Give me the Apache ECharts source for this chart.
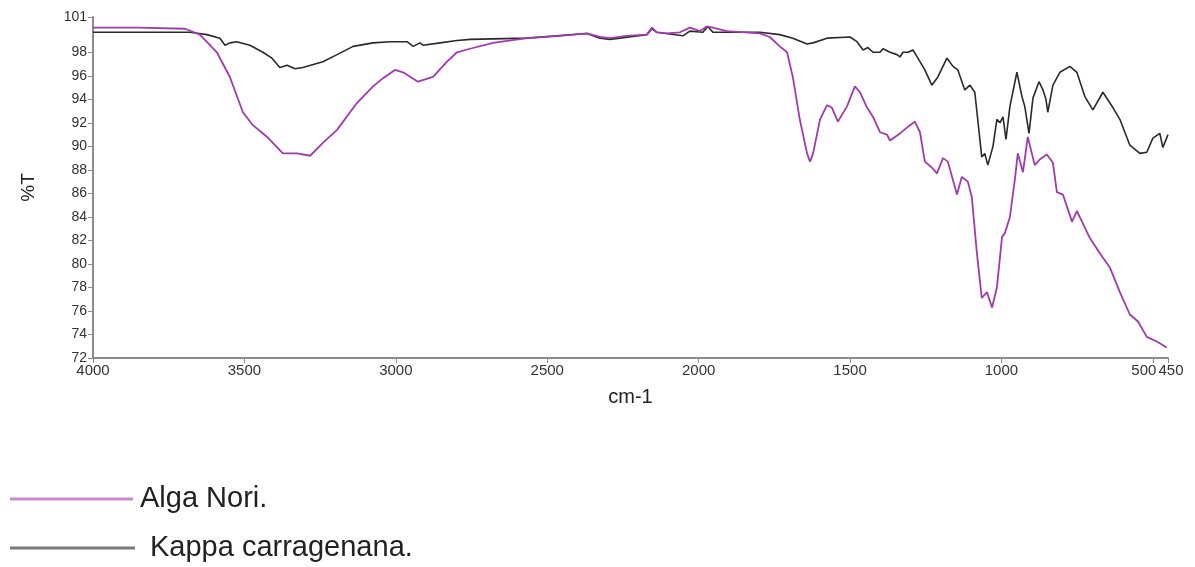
<!DOCTYPE html>
<html>
<head>
<meta charset="utf-8">
<script src="https://cdn.jsdelivr.net/npm/echarts@6/dist/echarts.min.js"></script>
<style>
  html, body { margin: 0; padding: 0; background: #fff; }
  #chart { width: 1195px; height: 567px; }
</style>
</head>
<body>
<div id="chart"></div>
<script>
// tick labels
const xTicks = [4000, 3500, 3000, 2500, 2000, 1500, 1000, 500, 450];
const yTicks = [72, 74, 76, 78, 80, 82, 84, 86, 88, 90, 92, 94, 96, 98, 101];

// Alga Nori. (wavenumber cm-1, %T)
const noriWn = [4000, 3850, 3696, 3647, 3591, 3548, 3505, 3472, 3425, 3373, 3326, 3283, 3241, 3194, 3128, 3075, 3042, 3003, 2976, 2927,
  2877, 2831, 2798, 2755, 2679, 2567, 2458, 2369, 2326, 2293, 2237, 2171, 2154, 2138, 2105, 2062, 2029, 1996, 1973, 1953,
  1907, 1798, 1765, 1732, 1708, 1689, 1666, 1642, 1632, 1622, 1599, 1576, 1560, 1540, 1510, 1484, 1467, 1444, 1424, 1401,
  1378, 1368, 1335, 1302, 1286, 1269, 1253, 1230, 1213, 1193, 1177, 1147, 1131, 1111, 1098, 1081, 1065, 1048, 1031, 1015,
  998, 989, 972, 956, 946, 929, 913, 890, 873, 850, 830, 817, 797, 767, 751, 734, 708, 675, 642, 609,
  576, 549, 520, 487, 454];
const noriT = [100.1, 100.1, 100.0, 99.5, 98.0, 95.9, 92.9, 91.8, 90.8, 89.4, 89.4, 89.2, 90.3, 91.4, 93.7, 95.1, 95.8, 96.5, 96.3, 95.5,
  95.9, 97.2, 98.0, 98.3, 98.8, 99.2, 99.4, 99.6, 99.3, 99.2, 99.4, 99.5, 100.1, 99.7, 99.6, 99.7, 100.1, 99.8, 100.2, 100.1,
  99.8, 99.6, 99.3, 98.5, 98.0, 95.9, 92.3, 89.4, 88.7, 89.4, 92.3, 93.5, 93.3, 92.1, 93.4, 95.1, 94.6, 93.3, 92.5, 91.2,
  91.0, 90.5, 91.1, 91.8, 92.1, 91.2, 88.7, 88.2, 87.7, 89.0, 88.7, 85.9, 87.4, 87.0, 85.7, 80.9, 77.1, 77.6, 76.3, 78.0,
  82.3, 82.6, 84.0, 87.1, 89.4, 87.8, 90.8, 88.4, 88.9, 89.3, 88.6, 86.1, 85.9, 83.6, 84.5, 83.6, 82.2, 80.9, 79.7, 77.6,
  75.7, 75.1, 73.8, 73.4, 72.9];

// Kappa carragenana. (wavenumber cm-1, %T)
const kappaWn = [4000, 3736, 3680, 3624, 3581, 3564, 3548, 3525, 3482, 3439, 3409, 3383, 3359, 3333, 3307, 3241, 3194, 3141, 3075, 3019,
  2963, 2943, 2920, 2910, 2854, 2798, 2755, 2567, 2369, 2326, 2293, 2171, 2154, 2138, 2052, 2029, 1986, 1970, 1953, 1798,
  1732, 1689, 1642, 1622, 1576, 1500, 1477, 1457, 1441, 1424, 1401, 1391, 1368, 1345, 1335, 1325, 1309, 1292, 1276, 1253,
  1230, 1210, 1180, 1160, 1144, 1121, 1104, 1088, 1065, 1055, 1045, 1028, 1015, 1005, 995, 985, 972, 949, 932, 923,
  909, 896, 876, 863, 853, 847, 830, 807, 774, 751, 724, 698, 665, 632, 609, 576, 543, 520, 500, 477,
  467, 450];
const kappaT = [99.7, 99.7, 99.7, 99.5, 99.2, 98.6, 98.8, 98.9, 98.6, 98.0, 97.5, 96.7, 96.9, 96.6, 96.7, 97.2, 97.8, 98.5, 98.8, 98.9,
  98.9, 98.5, 98.8, 98.6, 98.8, 99.0, 99.1, 99.2, 99.6, 99.2, 99.1, 99.5, 100.0, 99.7, 99.4, 99.8, 99.7, 100.2, 99.7, 99.7,
  99.5, 99.2, 98.7, 98.8, 99.2, 99.3, 98.9, 98.2, 98.4, 98.0, 98.0, 98.3, 98.0, 97.8, 97.6, 98.0, 98.0, 98.2, 97.5, 96.5,
  95.2, 95.9, 97.5, 96.8, 96.5, 94.8, 95.2, 94.6, 89.1, 89.4, 88.4, 90.0, 92.3, 92.0, 92.5, 90.6, 93.4, 96.3, 94.2, 93.4,
  91.1, 94.1, 95.5, 94.8, 94.0, 92.9, 95.2, 96.3, 96.8, 96.3, 94.2, 93.1, 94.6, 93.3, 92.3, 90.1, 89.4, 89.5, 90.7, 91.1,
  89.9, 91.0];

const zip = (a, b) => a.map((v, i) => [v, b[i]]);

const chart = echarts.init(document.getElementById('chart'));
const fontFamily = 'Liberation Sans, Arial, sans-serif';
const axisGrey = '#8c8c8c';

chart.setOption({
  animation: false,
  grid: { left: 93, right: 27, top: 17, bottom: 209 },
  legend: [
    {
      data: [{ name: 'Alga Nori.', itemStyle: { color: '#c98ad0' } }],
      left: 10,
      top: 484,
      padding: 0,
      icon: 'rect',
      itemWidth: 123,
      itemHeight: 3,
      textStyle: { fontFamily, fontSize: 29, color: '#222', lineHeight: 30, padding: [0, 0, 0, 2] },
    },
    {
      data: [{ name: 'Kappa carragenana.', itemStyle: { color: '#7a7a7a' } }],
      left: 10,
      top: 533,
      padding: 0,
      icon: 'rect',
      itemWidth: 125,
      itemHeight: 3,
      textStyle: { fontFamily, fontSize: 29, color: '#222', lineHeight: 30, padding: [0, 0, 0, 10] },
    },
  ],
  xAxis: {
    type: 'value',
    inverse: true,
    min: 450,
    max: 4000,
    name: 'cm-1',
    nameLocation: 'middle',
    nameGap: 29,
    nameTextStyle: { fontFamily, fontSize: 20, color: '#222' },
    axisLine: { lineStyle: { color: axisGrey, width: 2 } },
    axisTick: { show: true, length: 5, customValues: xTicks, lineStyle: { color: axisGrey } },
    splitLine: { show: false },
    axisLabel: {
      customValues: xTicks,
      fontFamily,
      fontSize: 15,
      color: '#333',
      margin: 5,
      formatter(value) {
        if (value === 500) return `{l|${value}}`;
        if (value === 450) return `{r|${value}}`;
        return `${value}`;
      },
      rich: {
        l: { fontFamily, fontSize: 15, color: '#333', padding: [0, 18, 0, 0] },
        r: { fontFamily, fontSize: 15, color: '#333', padding: [0, 0, 0, 6] },
      },
    },
  },
  yAxis: {
    type: 'value',
    min: 72,
    max: 101,
    name: '%T',
    nameLocation: 'middle',
    nameGap: 55,
    nameTextStyle: { fontFamily, fontSize: 19, color: '#222' },
    axisLine: { show: true, lineStyle: { color: axisGrey, width: 2 } },
    axisTick: { show: true, length: 5, customValues: yTicks, lineStyle: { color: axisGrey } },
    splitLine: { show: false },
    axisLabel: { customValues: yTicks, fontFamily, fontSize: 14, color: '#333', margin: 6 },
  },
  series: [
    {
      name: 'Alga Nori.',
      type: 'line',
      showSymbol: false,
      data: zip(noriWn, noriT),
      lineStyle: { color: '#a13aae', width: 1.8 },
      itemStyle: { color: '#a13aae' },
      z: 3,
    },
    {
      name: 'Kappa carragenana.',
      type: 'line',
      showSymbol: false,
      data: zip(kappaWn, kappaT),
      lineStyle: { color: '#2a2a2a', width: 1.6 },
      itemStyle: { color: '#2a2a2a' },
      z: 2,
    },
  ],
});
</script>
</body>
</html>
